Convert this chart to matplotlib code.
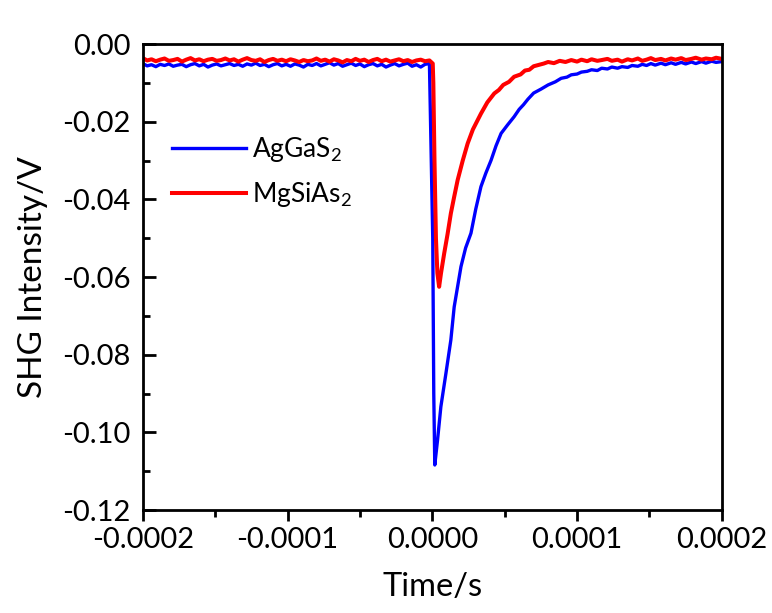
import matplotlib
matplotlib.use("Agg")
import matplotlib.pyplot as plt
from matplotlib.ticker import MultipleLocator, FormatStrFormatter

plt.rcParams['font.family'] = ['Lato', 'DejaVu Sans']
plt.rcParams['mathtext.fontset'] = 'custom'
plt.rcParams['mathtext.rm'] = 'Lato'
plt.rcParams['mathtext.it'] = 'Lato'

# time in microseconds, signal in volts
agg_t = [-200, -197, -194, -191, -188, -185, -182, -179, -176, -173,
         -170, -167, -164, -161, -158, -155, -152, -149, -146, -143,
         -140, -137, -134, -131, -128, -125, -122, -119, -116, -113,
         -110, -107, -104, -101, -98, -95, -92, -89, -86, -83,
         -80, -77, -74, -71, -68, -65, -62, -59, -56, -53,
         -50, -47, -44, -41, -38, -35, -32, -29, -26, -23,
         -20, -17, -14, -11, -8, -5, -2,
         0.3, 1.0, 1.7, 3.6, 5.9, 9.4, 12.8, 15.1, 19.8,
         23, 26.7, 30, 33.6, 37, 40.6, 44, 47.5, 52, 56.5,
         60, 63, 66, 70, 75, 80, 85, 89, 93, 96, 100, 103, 107, 110, 114, 117,
         121, 124, 128, 131, 135, 138, 142, 145, 148, 151, 154, 158, 161, 165,
         168, 172, 175, 179, 182, 186, 189, 193, 196, 200]
agg_v = [-0.0050, -0.0056, -0.0053, -0.0058, -0.0052, -0.0055, -0.0051, -0.0057, -0.0054, -0.0052,
         -0.0058, -0.0053, -0.0050, -0.0056, -0.0052, -0.0059, -0.0054, -0.0051, -0.0056, -0.0053,
         -0.0050, -0.0055, -0.0052, -0.0057, -0.0051, -0.0054, -0.0049, -0.0055, -0.0052, -0.0058,
         -0.0053, -0.0050, -0.0056, -0.0052, -0.0057, -0.0051, -0.0054, -0.0059, -0.0052, -0.0055,
         -0.0050, -0.0056, -0.0052, -0.0048, -0.0054, -0.0050, -0.0057, -0.0053, -0.0049, -0.0055,
         -0.0051, -0.0058, -0.0053, -0.0050, -0.0056, -0.0052, -0.0059, -0.0054, -0.0050, -0.0056,
         -0.0052, -0.0049, -0.0057, -0.0053, -0.0059, -0.0052, -0.0050,
         -0.0500, -0.0900, -0.1084, -0.1020, -0.0934, -0.0848, -0.0762, -0.0677, -0.0573,
         -0.0525, -0.0487, -0.0425, -0.0367, -0.0332, -0.0299, -0.0262, -0.0230, -0.0208, -0.0187,
         -0.0168, -0.0156, -0.0142, -0.0126, -0.0116, -0.0105, -0.0097, -0.0088, -0.0085, -0.0079,
         -0.0077, -0.0072, -0.0070, -0.0066, -0.0068, -0.0062,
         -0.0064, -0.0059, -0.0062, -0.0058, -0.0060, -0.0055, -0.0057, -0.0052, -0.0055, -0.0050,
         -0.0054, -0.0049, -0.0053, -0.0048,
         -0.0052, -0.0047, -0.0051, -0.0046, -0.0050, -0.0045, -0.0049, -0.0044, -0.0047, -0.0045]

msa_t = [-200, -197, -194, -191, -188, -185, -182, -179, -176, -173,
         -170, -167, -164, -161, -158, -155, -152, -149, -146, -143,
         -140, -137, -134, -131, -128, -125, -122, -119, -116, -113,
         -110, -107, -104, -101, -98, -95, -92, -89, -86, -83,
         -80, -77, -74, -71, -68, -65, -62, -59, -56, -53,
         -50, -47, -44, -41, -38, -35, -32, -29, -26, -23,
         -20, -17, -14, -11, -8, -5, -2,
         0.3, 0.7, 1.5, 2.5, 3.5, 4.7, 6, 8.2, 10.5, 12.8,
         15, 17.5, 21, 24.4, 28, 33.6, 38, 42.8, 46, 49, 53, 56.5,
         61, 64, 67, 70, 73, 77, 80, 84, 88, 92, 96, 100, 103, 107, 110, 114, 117,
         121, 124, 128, 131, 135, 138, 142, 145, 148, 151, 154, 158, 161, 165,
         168, 172, 175, 179, 182, 186, 189, 193, 196, 200]
msa_v = [-0.0036, -0.0042, -0.0039, -0.0044, -0.0040, -0.0037, -0.0043, -0.0041, -0.0038, -0.0045,
         -0.0040, -0.0036, -0.0042, -0.0039, -0.0044, -0.0040, -0.0038, -0.0043, -0.0041, -0.0037,
         -0.0042, -0.0039, -0.0045, -0.0040, -0.0036, -0.0041, -0.0043, -0.0039, -0.0046, -0.0041,
         -0.0038, -0.0043, -0.0040, -0.0044, -0.0039, -0.0042, -0.0046, -0.0041, -0.0044, -0.0042,
         -0.0037, -0.0043, -0.0040, -0.0045, -0.0039, -0.0042, -0.0047, -0.0041, -0.0044, -0.0038,
         -0.0043, -0.0040, -0.0046, -0.0041, -0.0038, -0.0044, -0.0040, -0.0045, -0.0042, -0.0039,
         -0.0044, -0.0041, -0.0046, -0.0042, -0.0040, -0.0044, -0.0042,
         -0.0050, -0.0100, -0.0300, -0.0500, -0.0590, -0.0625, -0.0590, -0.0539, -0.0490, -0.0436,
         -0.0395, -0.0350, -0.0300, -0.0256, -0.0220, -0.0179, -0.0150, -0.0127, -0.0118, -0.0105,
         -0.0097, -0.0084,
         -0.0078, -0.0068, -0.0066, -0.0057, -0.0054, -0.0050, -0.0046, -0.0049, -0.0043, -0.0046,
         -0.0041, -0.0045, -0.0040, -0.0044, -0.0039, -0.0043, -0.0041,
         -0.0038, -0.0043, -0.0040, -0.0045, -0.0039, -0.0042, -0.0037, -0.0043, -0.0040, -0.0036,
         -0.0041, -0.0038, -0.0042, -0.0037,
         -0.0040, -0.0036, -0.0041, -0.0038, -0.0035, -0.0040, -0.0037, -0.0039, -0.0035, -0.0038]

labels = ['AgGaS$_2$', 'MgSiAs$_2$']

x_ticks = [-0.0002, -0.0001, 0.0, 0.0001, 0.0002]


def main():
    fig = plt.figure(figsize=(7.72, 6.13), dpi=100)
    ax = fig.add_axes([0.185, 0.168, 0.75, 0.76])

    ax.plot([t * 1e-6 for t in agg_t], agg_v, color='#0000ff', lw=2.4, label=labels[0])
    ax.plot([t * 1e-6 for t in msa_t], msa_v, color='#ff0000', lw=2.9, label=labels[1])

    ax.set_xlim(-0.0002, 0.0002)
    ax.set_ylim(-0.12, 0.0)
    ax.set_xticks(x_ticks)
    ax.xaxis.set_major_formatter(FormatStrFormatter('%.4f'))
    ax.xaxis.set_minor_locator(MultipleLocator(0.00005))
    ax.yaxis.set_major_locator(MultipleLocator(0.02))
    ax.yaxis.set_minor_locator(MultipleLocator(0.01))
    ax.yaxis.set_major_formatter(FormatStrFormatter('%.2f'))

    for s in ax.spines.values():
        s.set_linewidth(2.0)
    ax.tick_params(axis='x', which='major', direction='out', length=8, width=2, labelsize=21, pad=4)
    ax.tick_params(axis='x', which='minor', direction='out', length=5, width=2)
    ax.tick_params(axis='y', which='major', direction='in', length=9, width=2, labelsize=21, pad=9)
    ax.tick_params(axis='y', which='minor', direction='in', length=5, width=2)

    ax.set_xlabel('Time/s', fontsize=23.5, labelpad=14)
    ax.set_ylabel('SHG Intensity/V', fontsize=24, labelpad=10)

    ax.legend(loc='upper left', bbox_to_anchor=(0.01, 0.855), frameon=False, fontsize=19,
              handlelength=2.8, handletextpad=0.2, labelspacing=0.6)

    fig.savefig('out.png', dpi=100)


if __name__ == "__main__":
    main()
